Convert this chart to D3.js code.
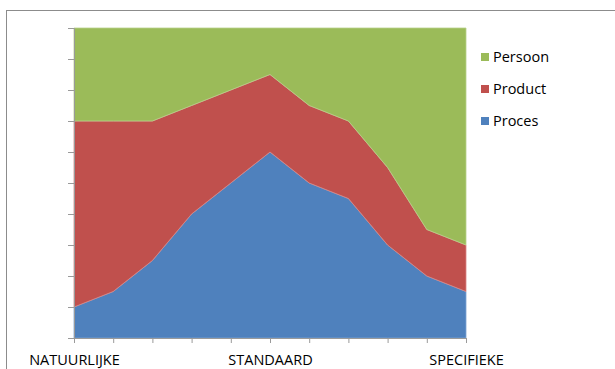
<!DOCTYPE html>
<html><head><meta charset="utf-8">
<script src="https://cdn.jsdelivr.net/npm/d3@7"></script>
<style>html,body{margin:0;padding:0;background:#fff;}svg{display:block;}</style>
</head><body>
<svg id="chart" width="615" height="369"></svg>
<script>
const categories = [0,1,2,3,4,5,6,7,8,9,10];
const categoryLabels = ["NATUURLIJKE","","","","","STANDAARD","","","","","SPECIFIEKE"];
const proces  = [10,15,25,40,50,60,50,45,30,20,15];
const product = [60,55,45,35,30,25,25,25,25,15,15];
const persoon = [30,30,30,25,20,15,25,30,45,65,70];
const seriesNames = ["Proces","Product","Persoon"];
const seriesColors = ["#4F81BD","#C0504D","#9BBB59"];
const strokeColors = ["#7FA3D3","#D98785","#B7D08A"];
const yTicks = [0,10,20,30,40,50,60,70,80,90,100];

const rows = categories.map((c,i)=>({cat:c, Proces:proces[i], Product:product[i], Persoon:persoon[i]}));
const svg = d3.select("#chart");
const pLeft=74, pRight=466, pTop=28, pBottom=338;

svg.append("rect").attr("x",6.5).attr("y",10.5).attr("width",620).attr("height",370)
  .attr("fill","none").attr("stroke","#8c8c8c").attr("stroke-width",1);

const x = d3.scaleLinear().domain([0,10]).range([pLeft,pRight]);
const y = d3.scaleLinear().domain([0,100]).range([pBottom,pTop]);

const stack = d3.stack().keys(seriesNames);
const layers = stack(rows);
const area = d3.area().x(d=>x(d.data.cat)).y0(d=>y(d[0])).y1(d=>y(d[1]));

svg.append("g").selectAll("path").data(layers).join("path")
  .attr("d",area).attr("fill",(d,i)=>seriesColors[i])
  .attr("stroke",(d,i)=>strokeColors[i]).attr("stroke-width",0.8);

// y axis ticks
const yAxis = d3.axisLeft(y).tickValues(yTicks).tickSize(6).tickFormat("");
const gy = svg.append("g").attr("transform",`translate(${pLeft},0)`).call(yAxis);
gy.select(".domain").attr("stroke","#9a9a9a");
gy.selectAll(".tick line").attr("stroke","#9a9a9a");

// x axis
const xAxis = d3.axisBottom(x).tickValues(categories).tickSize(5).tickFormat((d,i)=>categoryLabels[i]);
const gx = svg.append("g").attr("transform",`translate(0,${pBottom})`).call(xAxis);
gx.select(".domain").attr("stroke","#9a9a9a");
gx.selectAll(".tick line").attr("stroke","#9a9a9a");
gx.selectAll(".tick text").attr("font-family","Open Sans, sans-serif").attr("font-size",14.5)
  .attr("font-weight",500).attr("fill","#000").attr("dy","0").attr("y",27);

// legend
const legendNames = ["Persoon","Product","Proces"];
const legendColors = ["#9BBB59","#C0504D","#4F81BD"];
const lg = svg.append("g");
legendNames.forEach((n,i)=>{
  const cy = 57 + i*32;
  lg.append("rect").attr("x",481).attr("y",cy-4).attr("width",8).attr("height",8).attr("fill",legendColors[i]);
  lg.append("text").attr("x",493).attr("y",cy).attr("dy","0.36em")
    .attr("font-family","Open Sans, sans-serif").attr("font-size",14.5).attr("font-weight",500)
    .attr("fill","#000").text(n);
});
</script>
</body></html>
